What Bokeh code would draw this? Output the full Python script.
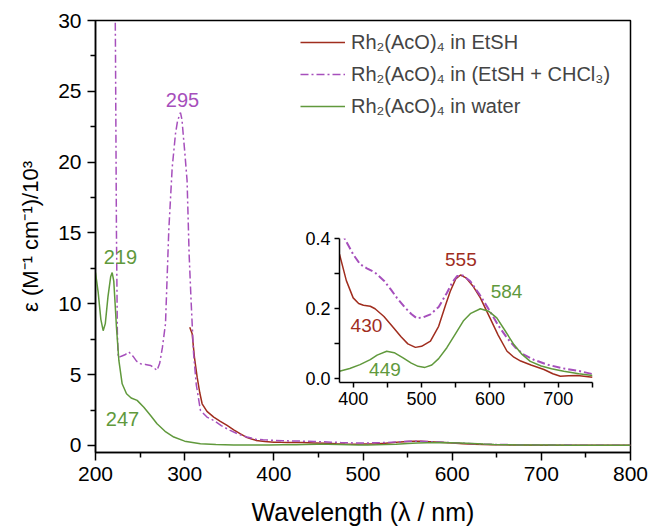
from bokeh.plotting import figure
from bokeh.layouts import column
from bokeh.models import FixedTicker, Legend, LegendItem, CustomJSTickFormatter
from bokeh.embed import file_html
from bokeh.resources import INLINE
from bokeh.core.properties import value

# ---------------- data ----------------
# Rh2(AcO)4 in water
water_uv_wl = [200, 203, 206, 208.6, 211, 214, 217, 218.7, 220.5, 222, 223.5, 226.2, 229.9, 234.8,
               240, 246.7, 254.2, 262, 269, 278, 287.8, 300, 317.7, 335, 355, 370]
water_uv_eps = [12.2, 10.8, 8.9, 8.1, 8.6, 10.5, 11.9, 12.2, 11.6, 10.0, 8.35, 6.0, 4.35, 3.65,
                3.35, 3.18, 2.7, 2.1, 1.53, 1.0, 0.59, 0.3, 0.12, 0.06, 0.03, 0.025]
water_vis_wl = [380, 395, 410, 425, 435, 449, 460, 473, 485, 495, 505, 515, 525, 537, 550, 561,
                572, 586, 598, 610, 622, 635, 647, 659, 675, 690, 708, 730, 750]
water_vis_eps = [0.022, 0.03, 0.041, 0.055, 0.068, 0.079, 0.075, 0.06, 0.045, 0.036, 0.033, 0.04,
                 0.058, 0.089, 0.13, 0.165, 0.187, 0.2, 0.193, 0.174, 0.138, 0.098, 0.07, 0.05,
                 0.037, 0.029, 0.022, 0.015, 0.01]
water_tail_wl = [775, 800]
water_tail_eps = [0.007, 0.005]

# Rh2(AcO)4 in EtSH
etsh_uv_wl = [305.7, 308.4, 311, 314, 317, 319.6, 325, 332.6, 340, 347.6, 355, 362.6, 370, 375]
etsh_uv_eps = [8.35, 7.88, 6.2, 4.82, 3.7, 2.94, 2.4, 2.0, 1.7, 1.41, 1.1, 0.82, 0.55, 0.45]
etsh_vis_wl = [380, 390, 400, 408, 415, 425, 432, 445, 459, 470, 480, 491, 500, 513, 525, 535,
               542, 550, 557, 565, 575, 586, 600, 612, 625, 635, 645, 660, 679, 692, 703, 715,
               728, 750]
etsh_vis_eps = [0.355, 0.28, 0.231, 0.215, 0.21, 0.207, 0.2, 0.178, 0.146, 0.12, 0.1, 0.09, 0.093,
                0.108, 0.15, 0.21, 0.25, 0.285, 0.296, 0.288, 0.265, 0.231, 0.174, 0.125, 0.079,
                0.062, 0.051, 0.04, 0.027, 0.015, 0.008, 0.009, 0.01, 0.005]
etsh_tail_wl = [775, 800]
etsh_tail_eps = [0.005, 0.004]

# Rh2(AcO)4 in (EtSH + CHCl3)
mix_uv_wl = [221.0, 222.4, 223.5, 224.5, 225.5, 229, 233, 237.4, 242, 246, 250.4, 256, 261.7, 265,
             269, 272, 275, 278.5, 282.2, 286, 289.7, 292, 295.3, 297, 298.3, 300, 302.7, 305, 307,
             308.4, 310, 313, 317.7, 325, 332.6, 341, 351, 360, 370]
mix_uv_eps = [40, 28, 15, 8, 6.2, 6.3, 6.4, 6.6, 6.3, 5.95, 5.77, 5.72, 5.65, 5.5,
              5.3, 5.8, 6.9, 8.6, 15.2, 19.6, 22.0, 22.9, 23.5, 23.0, 22.0, 20.8, 18.7, 13.5, 10.5,
              8.6, 6.5, 4.3, 2.47, 2.0, 1.76, 1.4, 1.06, 0.8, 0.59]
mix_vis_wl = [380, 388, 400, 410, 420, 432, 445, 455, 464, 475, 485, 493, 503, 513, 525, 537,
              545, 552, 560, 571, 585, 600, 612, 625, 637, 649, 665, 684, 705, 732, 750]
mix_vis_eps = [0.43, 0.398, 0.355, 0.327, 0.315, 0.303, 0.28, 0.255, 0.231, 0.205, 0.185, 0.173,
               0.176, 0.184, 0.205, 0.245, 0.275, 0.293, 0.295, 0.279, 0.24, 0.193, 0.153, 0.117,
               0.09, 0.07, 0.054, 0.041, 0.031, 0.022, 0.014]
mix_tail_wl = [775, 800]
mix_tail_eps = [0.012, 0.01]

main_labels = ["295", "219", "247"]
main_label_x = [297.5, 228, 230.3]
main_label_y = [24.4, 13.3, 1.9]
inset_labels = ["555", "584", "430", "449"]
inset_label_x = [557.5, 624.3, 419.4, 446.5]
inset_label_y = [0.341, 0.249, 0.151, 0.027]

x_major = [200, 300, 400, 500, 600, 700, 800]
x_minor = [250, 350, 450, 550, 650, 750]
y_major = [0, 5, 10, 15, 20, 25, 30]
y_minor = [2.5, 7.5, 12.5, 17.5, 22.5, 27.5]
ix_major = [400, 500, 600, 700]
ix_minor = [450, 550, 650, 750]
iy_major = [0.0, 0.2, 0.4]
iy_minor = [0.1, 0.3]

RED = "#A02D1E"
PURPLE = "#A64FBC"
GREEN = "#60993C"
FONT = "Liberation Sans"
DASHDOT = "8 3 2 3"

main_label_colors = [PURPLE, GREEN, GREEN]
inset_label_colors = [RED, GREEN, RED, GREEN]

BL, BR = 95, 20   # shared left/right borders (column aligns them)


def style_axes(fig, tick_size, major_out, minor_out, width):
    for ax in (fig.xaxis[0], fig.yaxis[0]):
        ax.axis_line_color = "black"
        ax.axis_line_width = width
        ax.major_tick_line_color = "black"
        ax.minor_tick_line_color = "black"
        ax.major_tick_line_width = width
        ax.minor_tick_line_width = width
        ax.major_tick_in = 0
        ax.major_tick_out = major_out
        ax.minor_tick_in = 0
        ax.minor_tick_out = minor_out
        ax.major_label_text_font = FONT
        ax.major_label_text_font_size = tick_size
        ax.major_label_text_color = "black"
        ax.axis_label_text_font = FONT
        ax.axis_label_text_font_style = "normal"
        ax.axis_label_text_color = "black"


# ---------------- main figure ----------------
p = figure(frame_width=535, frame_height=432, x_range=(200, 800), y_range=(-0.5, 30),
           output_backend="svg", toolbar_location=None,
           min_border_left=BL, min_border_right=BR, min_border_top=20, min_border_bottom=77)
p.grid.visible = False
p.outline_line_color = "black"
p.outline_line_width = 1.5
p.background_fill_color = "white"
p.border_fill_color = "white"

r_etsh = p.line(etsh_uv_wl + etsh_vis_wl + etsh_tail_wl, etsh_uv_eps + etsh_vis_eps + etsh_tail_eps,
                line_color=RED, line_width=1.5)
r_mix = p.line(mix_uv_wl + mix_vis_wl + mix_tail_wl, mix_uv_eps + mix_vis_eps + mix_tail_eps,
               line_color=PURPLE, line_width=1.5, line_dash=DASHDOT)
r_water = p.line(water_uv_wl + water_vis_wl + water_tail_wl,
                 water_uv_eps + water_vis_eps + water_tail_eps,
                 line_color=GREEN, line_width=1.5)

p.text(x=main_label_x, y=main_label_y, text=main_labels, text_color=main_label_colors,
       text_font=value(FONT), text_font_size="20px", text_align="center",
       text_baseline="middle")

p.xaxis.ticker = FixedTicker(ticks=x_major, minor_ticks=x_minor)
p.yaxis.ticker = FixedTicker(ticks=y_major, minor_ticks=y_minor)
style_axes(p, "21px", 8, 5, 1.5)
p.xaxis.axis_label = "Wavelength (λ / nm)"
p.yaxis.axis_label = "ε (M⁻¹ cm⁻¹)/10³"
p.xaxis.axis_label_text_font_size = "25px"
p.yaxis.axis_label_text_font_size = "22px"
p.xaxis.axis_label_standoff = 14
p.yaxis.axis_label_standoff = 12
p.xaxis.major_label_standoff = 6
p.yaxis.major_label_standoff = 6

legend = Legend(items=[
    LegendItem(label="Rh₂(AcO)₄ in EtSH", renderers=[r_etsh]),
    LegendItem(label="Rh₂(AcO)₄ in (EtSH + CHCl₃)", renderers=[r_mix]),
    LegendItem(label="Rh₂(AcO)₄ in water", renderers=[r_water]),
], location=(205, 330), border_line_color=None, background_fill_alpha=0,
    padding=0, spacing=0, margin=0, glyph_width=45, glyph_height=32, label_height=32,
    label_standoff=6, label_text_font=FONT, label_text_font_size="20px")
p.add_layout(legend)

# ---------------- inset figure ----------------
q = figure(frame_width=253, frame_height=144, x_range=(380, 750), y_range=(-0.01, 0.4),
           output_backend="svg", toolbar_location=None,
           min_border_left=BL, min_border_right=BR, min_border_top=12, min_border_bottom=32)
q.grid.visible = False
q.outline_line_color = None
q.background_fill_alpha = 0
q.border_fill_alpha = 0

q.line(etsh_vis_wl, etsh_vis_eps, line_color=RED, line_width=1.5)
q.line(mix_vis_wl, mix_vis_eps, line_color=PURPLE, line_width=2, line_dash=DASHDOT)
q.line(water_vis_wl, water_vis_eps, line_color=GREEN, line_width=1.5)
q.text(x=inset_label_x, y=inset_label_y, text=inset_labels, text_color=inset_label_colors,
       text_font=value(FONT), text_font_size="19px", text_align="center",
       text_baseline="middle")
q.xaxis.ticker = FixedTicker(ticks=ix_major, minor_ticks=ix_minor)
q.yaxis.ticker = FixedTicker(ticks=iy_major, minor_ticks=iy_minor)
q.yaxis.formatter = CustomJSTickFormatter(code="return tick.toFixed(1);")
style_axes(q, "18px", 5, 5, 1.5)
q.xaxis.major_label_standoff = 4
q.yaxis.major_label_standoff = 4

# inset frame: left edge at x=339, top edge at y=238 in the page
q.styles = {"position": "absolute", "left": f"{339 - BL}px", "top": f"{238 - 12}px"}

layout = column(p, q, styles={"position": "relative"})

open("out.html", "w").write(file_html(layout, INLINE))
